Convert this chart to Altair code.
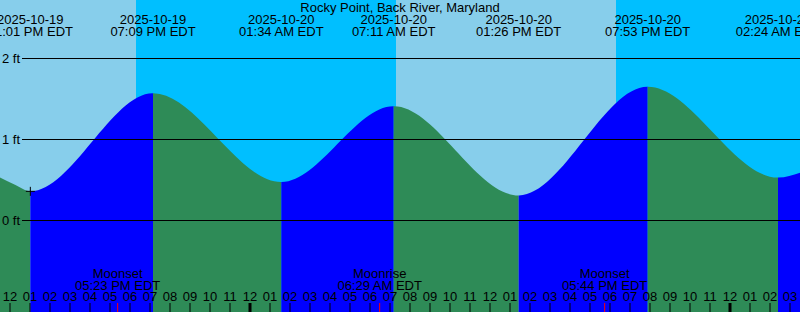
import altair as alt
import pandas as pd

# ---------------- data ----------------
title_text = "Rocky Point, Back River, Maryland"
base_time = "2025-10-19 12:00"
view_start = "2025-10-19 11:30"
view_end = "2025-10-21 03:30"

# tide extremes (time, height ft)
ext_times = ["2025-10-19 13:01", "2025-10-19 19:09", "2025-10-20 01:34",
             "2025-10-20 07:11", "2025-10-20 13:26", "2025-10-20 19:53",
             "2025-10-21 02:24"]
ext_heights = [0.36, 1.57, 0.475, 1.41, 0.31, 1.65, 0.53]

# tide heights read at the chart edges
edge_times = ["2025-10-19 11:30", "2025-10-19 12:15", "2025-10-21 03:30"]
edge_heights = [0.53, 0.44, 0.59]

# sun: boundaries between day (skyblue) and night (deepskyblue)
sun_times = ["2025-10-19 18:18", "2025-10-20 07:18", "2025-10-20 18:18"]
sky_colors = ["#87CEEB", "#00BFFF", "#87CEEB", "#00BFFF"]

# moon events
moon_times = ["2025-10-19 17:23", "2025-10-20 06:29", "2025-10-20 17:44"]
moon_names = ["Moonset", "Moonrise", "Moonset"]
moon_labels = ["05:23 PM EDT", "06:29 AM EDT", "05:44 PM EDT"]

# level lines
ft_levels = [0, 1, 2]
ft_labels = ["0 ft", "1 ft", "2 ft"]

# hour ticks from 12 PM Oct 19 to 3 AM Oct 21
hour_ticks = list(range(0, 40))
hour_labels = ["12", "01", "02", "03", "04", "05", "06", "07", "08", "09", "10", "11"] * 3 + ["12", "01", "02", "03"]

# ---------------- helpers ----------------
T0 = pd.Timestamp(base_time)


def hrs(s):
    return (pd.Timestamp(s) - T0) / pd.Timedelta(hours=1)


W, H = 800, 312
FONT = "Liberation Sans"
FS = 13
Y_BOTTOM = (220.5 - 312) / 81.0
Y_TOP = 220.5 / 81.0

x_scale = alt.Scale(domain=[hrs(view_start), hrs(view_end)], nice=False, zero=False)
y_scale = alt.Scale(domain=[Y_BOTTOM, Y_TOP], nice=False, zero=False)

# sky background
sky_edges = [hrs(view_start)] + [hrs(t) for t in sun_times] + [hrs(view_end)]
sky_df = pd.DataFrame({
    "h0": sky_edges[:-1],
    "h1": sky_edges[1:],
    "c": sky_colors,
})
sky = alt.Chart(sky_df).mark_rect(strokeWidth=0).encode(
    x=alt.X("h0:Q", scale=x_scale, axis=None),
    x2="h1:Q",
    y=alt.value(0),
    y2=alt.value(H),
    color=alt.Color("c:N", scale=None),
)

# water segments (rising = blue, falling = seagreen)
knot_h = [hrs(edge_times[0])] + [hrs(t) for t in ext_times] + [hrs(edge_times[2])]
knot_v = [edge_heights[0]] + ext_heights + [edge_heights[2]]
eps = 1.0 / 60.0
rows = []
for i in range(len(knot_h) - 1):
    h0, h1 = knot_h[i], knot_h[i + 1]
    v0, v1 = knot_v[i], knot_v[i + 1]
    col = "#0000FF" if v1 > v0 else "#2E8B57"
    pts = [(h0, v0)]
    if i == 0:
        pts.append((hrs(edge_times[1]), edge_heights[1]))
    else:
        pts.append((h0 + eps, v0))
    if i < len(knot_h) - 2:
        pts.append((h1 - eps, v1))
    pts.append((h1, v1))
    for (hh, vv) in pts:
        rows.append({"seg": i, "h": hh, "v": vv, "base": Y_BOTTOM, "c": col})
water_df = pd.DataFrame(rows)
water = alt.Chart(water_df).mark_area(interpolate="monotone", strokeWidth=0, opacity=1).encode(
    x=alt.X("h:Q", scale=x_scale, axis=None),
    y=alt.Y("v:Q", scale=y_scale, axis=None, stack=None),
    y2="base:Q",
    color=alt.Color("c:N", scale=None),
    detail="seg:N",
)

# level lines & labels
lv_df = pd.DataFrame({"ft": ft_levels, "lab": ft_labels})
lines = alt.Chart(lv_df).mark_rule(color="black", strokeWidth=1).encode(
    y=alt.Y("ft:Q", scale=y_scale, axis=None),
    x=alt.value(22),
    x2=alt.value(W),
)
lv_text = alt.Chart(lv_df).mark_text(align="left", baseline="middle", font=FONT,
                                      fontSize=FS, color="black").encode(
    y=alt.Y("ft:Q", scale=y_scale, axis=None),
    x=alt.value(2),
    text="lab:N",
)

# top labels
ext_df = pd.DataFrame({
    "h": [hrs(t) for t in ext_times],
    "v": ext_heights,
    "d": [pd.Timestamp(t).strftime("%Y-%m-%d") for t in ext_times],
    "t": [pd.Timestamp(t).strftime("%I:%M %p") + " EDT" for t in ext_times],
})
top_date = alt.Chart(ext_df).mark_text(align="center", baseline="middle", font=FONT,
                                       fontSize=FS, color="black").encode(
    x=alt.X("h:Q", scale=x_scale, axis=None), y=alt.value(19.5), text="d:N")
top_time = alt.Chart(ext_df).mark_text(align="center", baseline="middle", font=FONT,
                                       fontSize=FS, color="black").encode(
    x=alt.X("h:Q", scale=x_scale, axis=None), y=alt.value(31.5), text="t:N")

title_df = pd.DataFrame({"t": [title_text]})
title = alt.Chart(title_df).mark_text(align="center", baseline="middle", font=FONT,
                                      fontSize=FS, color="black").encode(
    x=alt.value(W / 2), y=alt.value(7.5), text="t:N")

# marker at first low
mark_df = ext_df.iloc[[0]]
cross = alt.Chart(mark_df).mark_point(shape="M-1,0L1,0M0,-1L0,1", filled=False,
                                      color="black", strokeWidth=1, size=81,
                                      opacity=1).encode(
    x=alt.X("h:Q", scale=x_scale, axis=None),
    y=alt.Y("v:Q", scale=y_scale, axis=None),
)

# hour ticks & labels
hr_df = pd.DataFrame({
    "h": hour_ticks,
    "lab": hour_labels,
    "w": [3 if (h % 24) == 12 else 1 for h in hour_ticks],
})
hr_rules = alt.Chart(hr_df).mark_rule(color="black").encode(
    x=alt.X("h:Q", scale=x_scale, axis=None),
    y=alt.value(303), y2=alt.value(H),
    strokeWidth=alt.StrokeWidth("w:Q", scale=None),
)
hr_text = alt.Chart(hr_df).mark_text(align="center", baseline="middle", font=FONT,
                                     fontSize=FS, color="black").encode(
    x=alt.X("h:Q", scale=x_scale, axis=None), y=alt.value(297), text="lab:N")

# moon events
moon_df = pd.DataFrame({
    "h": [hrs(t) for t in moon_times],
    "n": moon_names,
    "t": moon_labels,
})
moon_rules = alt.Chart(moon_df).mark_rule(color="red", strokeWidth=1).encode(
    x=alt.X("h:Q", scale=x_scale, axis=None),
    y=alt.value(303), y2=alt.value(H),
)
moon_name = alt.Chart(moon_df).mark_text(align="center", baseline="middle", font=FONT,
                                         fontSize=FS, color="black").encode(
    x=alt.X("h:Q", scale=x_scale, axis=None), y=alt.value(274), text="n:N")
moon_time = alt.Chart(moon_df).mark_text(align="center", baseline="middle", font=FONT,
                                         fontSize=FS, color="black").encode(
    x=alt.X("h:Q", scale=x_scale, axis=None), y=alt.value(286), text="t:N")

chart = alt.layer(
    sky, water, lines, lv_text, cross, top_date, top_time, title,
    hr_rules, moon_rules, hr_text, moon_name, moon_time,
).properties(
    width=W, height=H,
    autosize=alt.AutoSizeParams(type="none"),
    padding=0,
    background="white",
).configure_view(stroke=None)

chart.save("out.html", embed_options={"renderer": "svg", "actions": False})
